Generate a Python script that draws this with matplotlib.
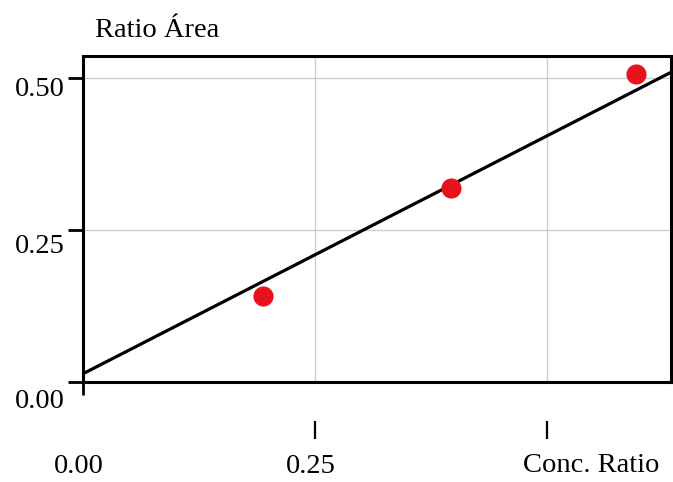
import matplotlib
matplotlib.use("Agg")
import matplotlib.pyplot as plt
import matplotlib.transforms as mtransforms
import numpy as np

plt.rcParams['font.family'] = ['Liberation Serif', 'DejaVu Serif']

# data
conc_ratio = [0.194, 0.397, 0.596]
area_ratio = [0.142, 0.320, 0.508]
fit_x = [0.0, 0.634]
fit_y = [0.013, 0.510]

x_ticks = [0.0, 0.25]
x_tick_labels = ["0.00", "0.25"]
x_marks = [0.25, 0.50]
y_ticks = [0.0, 0.25, 0.50]
y_tick_labels = ["0.00", "0.25", "0.50"]

FS = 20.5

fig = plt.figure(figsize=(6.73, 4.82), dpi=100)
ax = fig.add_axes([0.123, 0.208, 0.874, 0.676])

ax.set_xlim(0, 0.634)
ax.set_ylim(0, 0.537)

# grid
for v in [0.25, 0.50]:
    ax.axvline(v, color='#cccccc', lw=1.0, zorder=0)
    ax.axhline(v, color='#cccccc', lw=1.0, zorder=0)

# fitted line and points
ax.plot(fit_x, fit_y, color='black', lw=2.3, zorder=2)
ax.scatter(conc_ratio, area_ratio, s=210, color='#e8121c', zorder=3, linewidths=0)

for sp in ax.spines.values():
    sp.set_linewidth(2.2)
    sp.set_color('black')

# y axis
ax.set_yticks(y_ticks)
ax.set_yticklabels(y_tick_labels, fontsize=FS)
ax.tick_params(axis='y', direction='out', length=11, width=2.0, pad=2)
offs = [-17, -13, -8]
for lab, o in zip(ax.get_yticklabels(), offs):
    lab.set_transform(lab.get_transform() +
                      mtransforms.ScaledTranslation(0, o / 100, fig.dpi_scale_trans))

# x axis: only the 0 tick touches the spine, labels far below
ax.set_xticks(x_ticks)
ax.set_xticklabels(x_tick_labels, fontsize=FS)
ax.tick_params(axis='x', direction='out', length=9, width=2.0, pad=43)
ax.xaxis.get_major_ticks()[1].tick1line.set_visible(False)
for lab in ax.get_xticklabels():
    lab.set_transform(lab.get_transform() +
                      mtransforms.ScaledTranslation(-4 / 100, 0, fig.dpi_scale_trans))

# detached tick marks below the axis
sec = ax.secondary_xaxis(-0.12)
sec.set_xticks(x_marks)
sec.tick_params(axis='x', direction='out', length=13, width=1.6, labelbottom=False)
sec.spines['bottom'].set_visible(False)

ax.text(0.02, 1.04, "Ratio Área", transform=ax.transAxes, fontsize=FS,
        ha='left', va='bottom')
ax.text(0.981, -0.22, "Conc. Ratio", transform=ax.transAxes, fontsize=FS,
        ha='right', va='top')

fig.savefig("out.png", dpi=100)
